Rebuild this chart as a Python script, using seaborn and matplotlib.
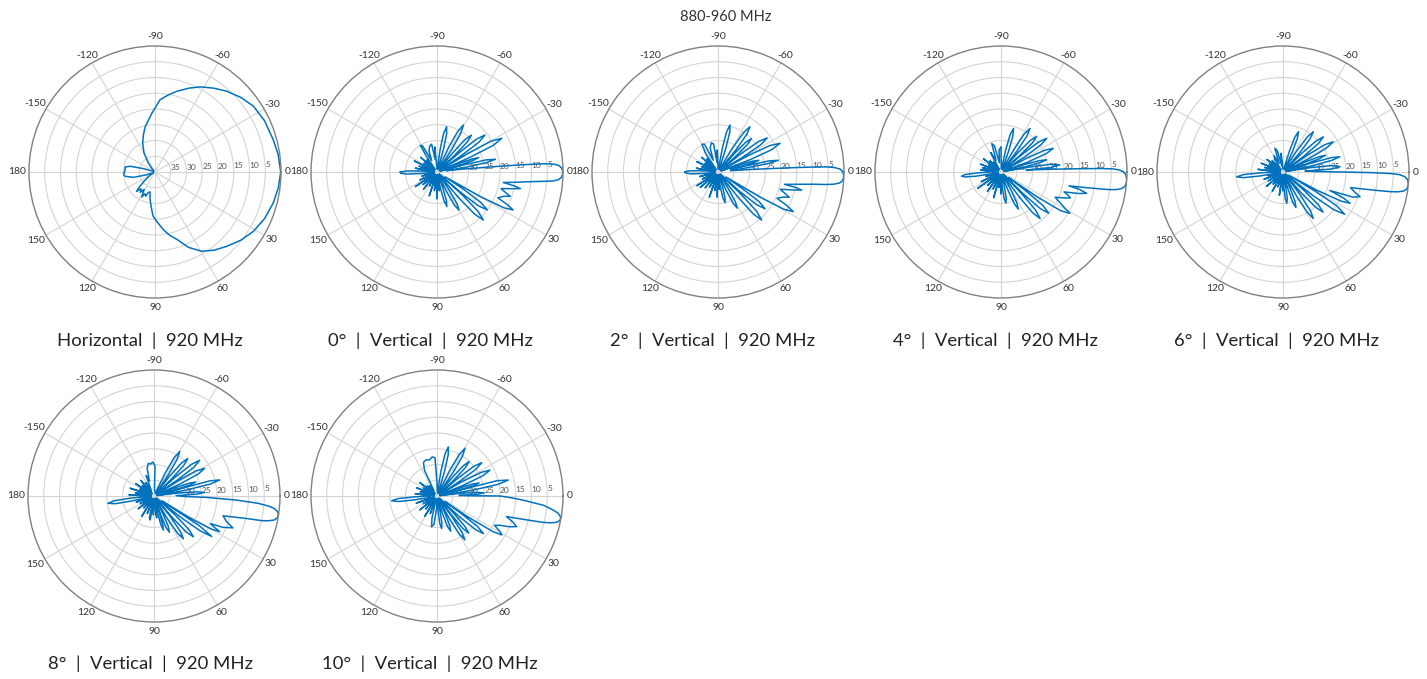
import numpy as np
import pandas as pd
import seaborn as sns
import matplotlib.pyplot as plt

sns.set_theme(style='white')
plt.rcParams['font.family'] = ['Lato', 'DejaVu Sans']

# radiation patterns: (angle in deg, attenuation in dB)
horizontal = [(-180, 30.3), (-175, 30.5), (-170.5, 30.4), (-167, 31.9), (-164, 36), (-160, 39), (-150, 39.5),
              (-140, 39.5), (-132, 38.5), (-126.5, 36.4), (-120, 33), (-113, 30), (-107, 27.5), (-102, 25.2),
              (-97, 23.3), (-93, 21.3), (-86, 17), (-80, 15.1), (-75, 13.5), (-68, 11.3), (-62, 9.4), (-55, 7.5),
              (-48.4, 5.7), (-41, 3.9), (-33.7, 2.4), (-25, 1.6), (-15.3, 1.1), (-8, 0.5), (0, 0.1), (7, 0.5),
              (14.7, 1.2), (23, 2.2), (31, 3.5), (38.5, 5.2), (46, 7.2), (53, 8.9), (59.5, 10.8), (66, 13.8),
              (72, 17.5), (77, 19.4), (81.8, 21.5), (88, 24.3), (92.5, 26),
              (95, 28), (98, 30), (101, 31.6), (104, 33.5), (108, 33.2), (111, 31.8), (114.8, 32.4), (118, 31),
              (122, 33.5), (126, 32), (129, 33), (131, 32.8), (133.5, 31.5), (136, 33), (140, 35.5), (146, 38),
              (155, 39.5), (162, 37), (166, 33), (168.7, 32), (171.8, 30.4), (176, 30), (180, 30.3)]

tilt0 = [(-180, 28.3), (-178, 30.5), (-176.5, 35), (-174, 39), (-170, 33), (-166, 39), (-162, 34), (-158, 39),
         (-154, 32), (-150, 39), (-146, 35), (-142, 39), (-138, 33), (-134, 39), (-130, 35), (-127, 39),
         (-124, 34), (-122, 30), (-119, 30.5), (-115, 36), (-111, 33), (-106, 31.5), (-101, 31), (-98, 36),
         (-95, 32), (-90, 39),
         (-84, 39), (-82, 32.5), (-80.2, 27.5), (-78, 25.3), (-75.8, 27.5), (-74, 32.5), (-72, 39),
         (-66, 39), (-64.7, 31.5), (-62.9, 25.5), (-60.7, 22.9), (-58.5, 25.5), (-56.7, 31.5), (-54, 39),
         (-50.5, 32), (-49.2, 26.4), (-47, 24), (-44.8, 26.4), (-43.5, 32), (-42.3, 39),
         (-41, 30.5), (-39.8, 23.7), (-37.6, 20.8), (-35.4, 23.7), (-34, 30.5), (-32.5, 39),
         (-31, 28.5), (-29.7, 20.3), (-27.5, 16.8), (-25.3, 20.3), (-24, 28.5), (-22.5, 39),
         (-21.5, 33), (-20.3, 28.1), (-19, 26), (-17.7, 28.1), (-16.5, 33), (-15.5, 39),
         (-14.8, 30.5), (-13.8, 23.9), (-12.3, 21), (-10.8, 23.9), (-9.5, 30.5), (-8, 37),
         (-6.5, 32), (-5.2, 19), (-4.8, 12), (-4.4, 6), (-3.9, 3), (-3.1, 1.3), (-2, 0.5), (-0.5, 0.1),
         (1, 0.1), (2.5, 0.5), (3.6, 1.3), (4.4, 3), (5, 6), (5.8, 9.8), (7.5, 15), (9, 18.7),
         (10.2, 15), (11.3, 13), (12.5, 15.5), (14.5, 19),
         (17, 17), (18.4, 15.5), (20, 17.5), (23, 19),
         (24.8, 15.5), (26.5, 13), (28.2, 16), (29.5, 24), (31, 37),
         (33, 30), (34.8, 23), (37, 20), (39.2, 23), (40.8, 30), (41.5, 39),
         (42, 29.5), (43.8, 22), (46, 18.8), (48.2, 22), (50, 29.5), (52, 39),
         (56, 33), (57.8, 28), (60, 26), (62.2, 28), (64, 33), (66, 39),
         (70, 34.5), (71.8, 30.5), (74, 28.6), (76.2, 30.5), (78, 34.5), (80, 39),
         (83, 34), (86, 39), (90, 31.5), (94, 39), (98, 34), (103, 39), (108, 32), (113, 39), (118, 35),
         (123, 39), (128, 33), (133, 39), (138, 34), (142, 39), (146, 31.7), (150, 39), (155, 34), (160, 39),
         (165, 35), (170, 39), (174.5, 35), (176, 30.5), (178, 28.5), (180, 28.3)]

tilt2 = [(-180, 29.5), (-178, 30.5), (-176, 34), (-173, 38), (-170, 33), (-166, 39), (-162, 34.5), (-158, 39),
         (-154, 32.5), (-150, 39), (-146, 35), (-142, 39), (-138, 33), (-134, 39), (-130, 34.5), (-127, 39),
         (-124, 33), (-120, 29.8), (-116, 30.2), (-112, 36), (-108, 32), (-103, 30.5), (-99, 31), (-96, 37),
         (-92, 33), (-88, 39),
         (-82, 39), (-79.7, 32.3), (-77.9, 26.9), (-75.7, 24.6), (-73.5, 26.9), (-71.7, 32.3), (-66, 39),
         (-60, 39), (-58.8, 31.2), (-57, 25), (-54.8, 22.4), (-52.6, 25), (-51, 31.2), (-50, 39),
         (-48.5, 32.5), (-47, 27.3), (-45, 25), (-43, 27.3), (-41.5, 32.5), (-40, 39),
         (-38.5, 30.5), (-36.9, 23.9), (-34.7, 21), (-32.5, 23.9), (-31, 30.5), (-29.8, 39),
         (-28.5, 29), (-27, 21.5), (-24.8, 18.3), (-22.6, 21.5), (-21, 29), (-19.8, 39),
         (-18.5, 33.2), (-17.3, 28.5), (-16, 26.5), (-14.7, 28.5), (-13.5, 33.2), (-13, 36),
         (-12.3, 23.5), (-11, 20.5), (-9.7, 23.5), (-8.5, 30), (-6, 36),
         (-4.5, 30), (-3.4, 18), (-3, 10), (-2.7, 5.5), (-2.2, 3), (-1.4, 1.3), (-0.3, 0.5), (1.3, 0.1),
         (2.8, 0.1), (4.2, 0.5), (5.2, 1.3), (6, 3), (6.6, 5.5), (7.3, 9.5), (9, 15), (10.5, 18.5),
         (11.2, 15), (12.2, 12.8), (13.4, 15.3), (15.5, 19.5),
         (18, 17.5), (19.5, 16), (21, 17.8), (24, 19.5),
         (26.1, 15.5), (27.8, 13), (29.5, 16), (30.8, 24), (32.5, 37),
         (34.3, 30.5), (35.8, 23.9), (38, 21), (40.2, 23.9), (41.8, 30.5), (43, 39),
         (44, 29.7), (45.5, 22.5), (47.7, 19.4), (49.9, 22.5), (51.5, 29.7), (53.5, 39),
         (58, 33.5), (59.8, 29), (62, 27), (64.2, 29), (66, 33.5), (68.5, 39),
         (73, 35), (74.8, 31.5), (77, 30), (79.2, 31.5), (81, 35), (83, 39),
         (86, 34.5), (89, 39), (92, 32), (96, 39), (100, 34), (104, 39), (109, 31.5), (114, 39), (119, 34.5),
         (124, 39), (129, 33.5), (134, 39), (139, 32.5), (143, 39), (147, 32), (151, 39), (156, 34.5),
         (161, 39), (166, 34), (170, 39), (174, 36), (176, 31.5), (178, 29.8), (180, 29.5)]

tilt4 = [(-180, 36), (-177, 38), (-174, 33.5), (-171, 39), (-167, 34), (-163, 39), (-159, 33), (-155, 39),
         (-151, 35.5), (-147, 39), (-143, 33), (-139, 39), (-135, 35), (-131, 39), (-127, 36),
         (-123, 39), (-118, 33), (-113, 36), (-108, 30.5), (-104, 31.5), (-100, 37), (-95, 33), (-90, 32),
         (-86, 39),
         (-80, 39), (-78, 32.8), (-76.2, 27.8), (-74, 25.6), (-71.8, 27.8), (-70, 32.8), (-65, 39),
         (-61, 39), (-60.2, 31.7), (-58.6, 25.9), (-56.4, 23.4), (-54.2, 25.9), (-52.7, 31.7), (-51, 39),
         (-48.7, 32), (-47.2, 26.4), (-45, 24), (-42.8, 26.4), (-41.3, 32), (-40.5, 39),
         (-39.8, 31), (-38.6, 24.7), (-36.4, 22), (-34.2, 24.7), (-32.7, 31), (-30.5, 39),
         (-28.3, 31), (-26.5, 24.5), (-24.3, 21.8), (-22.1, 24.5), (-20.3, 31), (-19, 39),
         (-17.8, 32.5), (-16.5, 27.3), (-15, 25), (-13.5, 27.3), (-12, 32.5), (-11, 39),
         (-9.8, 30.6), (-8.8, 24), (-6.8, 21.2), (-5.2, 24), (-4.5, 32),
         (-3.4, 26), (-2.4, 15.4), (-2, 8), (-1.6, 4.5), (-1, 2.5), (-0.1, 1.1), (1.2, 0.4), (3, 0.05),
         (5, 0.05), (6.6, 0.4), (7.7, 1.2), (8.6, 2.8), (9.2, 5), (9.6, 7.6), (10.5, 13), (11.5, 18),
         (12.5, 14.5), (14, 12), (15.5, 14.5), (17.5, 19),
         (19, 17.5), (20.5, 16.5), (22, 18), (25, 21),
         (29, 17.3), (31, 14.5), (33, 17.5), (34.5, 26), (36, 37),
         (37.2, 30), (38.6, 23), (40.8, 20), (43, 23), (44.5, 30), (45.5, 39),
         (46.3, 30.3), (47.8, 23.6), (50, 20.7), (52.2, 23.6), (53.8, 30.3), (56, 39),
         (61, 33.5), (62.8, 29), (65, 27), (67.2, 29), (69, 33.5), (72, 39),
         (77, 35), (78.8, 31.5), (81, 30), (83.2, 31.5), (85, 35), (87, 39),
         (90, 33), (94, 39), (98, 35), (102, 39), (106, 31.5), (110, 39), (115, 34), (120, 39), (125, 32.5),
         (130, 39), (135, 34), (140, 39), (145, 31), (149, 39), (154, 33), (159, 39), (164, 35), (168, 39),
         (170.5, 32), (172.2, 28.5), (174, 27.4), (175.8, 28.5), (177.5, 32), (180, 36)]

tilt6 = [(-180, 37), (-177, 38), (-174, 32), (-170, 39), (-166, 34), (-162, 39), (-158, 32.5), (-154, 39),
         (-150, 35), (-146, 39), (-142, 33.5), (-138, 39), (-134, 35), (-129, 39),
         (-124, 35.5), (-119, 34), (-114, 37), (-109, 32), (-105, 33), (-101, 38), (-96, 34), (-92, 39),
         (-75, 39), (-73, 33.2), (-71.2, 28.4), (-69, 26.3), (-66.8, 28.4), (-65, 33.2), (-61, 39),
         (-57, 32), (-55.2, 26.4), (-53, 24), (-50.8, 26.4), (-49, 32), (-47, 39),
         (-44.8, 31.5), (-43.2, 25.6), (-41, 23), (-38.8, 25.6), (-37.2, 31.5), (-36, 39),
         (-34.6, 30.7), (-33.2, 24.2), (-31, 21.4), (-28.8, 24.2), (-27.3, 30.7), (-26, 39),
         (-24.3, 32.8), (-23, 27.7), (-21.5, 25.5), (-20, 27.7), (-18.8, 32.8), (-18, 39),
         (-17.5, 30.7), (-16.6, 24.1), (-15, 21.3), (-13.4, 24.1), (-12, 30.7), (-10, 39),
         (-9, 30.9), (-7.5, 24.5), (-5.3, 21.8), (-3.5, 24.5), (-2.5, 33),
         (-1, 30), (0, 22), (0.4, 12), (0.8, 6), (1.3, 3), (2.2, 1.3), (3.5, 0.4), (5, 0.05), (6.5, 0.05),
         (8, 0.4), (9, 1.3), (9.8, 3), (10.4, 5.5), (11, 9), (12, 14), (13, 18),
         (15.5, 16.5), (17.8, 14.3), (19.8, 16.5), (21.5, 24),
         (23.3, 19), (25, 16.5), (26.7, 19.5), (28.3, 28), (29.5, 38),
         (30.8, 28.2), (32.2, 19.9), (34.4, 16.3), (36.6, 19.9), (38.2, 28.2), (40, 39),
         (41.2, 31), (42.8, 24.7), (45, 22), (47.2, 24.7), (48.8, 31), (50.5, 39),
         (53, 31.2), (54.6, 25), (56.8, 22.4), (59, 25), (60.6, 31.2), (63, 39),
         (66.5, 34), (67.8, 29.8), (70, 28), (72.2, 29.8), (73.5, 34), (76.5, 39),
         (79.5, 35), (80.8, 31.5), (83, 30), (85.2, 31.5), (86.5, 35), (88, 39),
         (91, 34), (95, 39), (99, 32.5), (104, 39), (109, 35), (114, 39), (119, 33), (124, 39), (129, 35),
         (134, 39), (139, 33), (144, 39), (149, 34.5), (154, 39), (159, 33.5), (164, 39), (167, 35), (169, 39),
         (170.3, 32.6), (171.8, 27.4), (174, 25.2), (176.2, 27.4), (177.7, 32.6), (180, 37)]

tilt8 = [(-180, 37), (-177, 32), (-174, 39), (-170, 34), (-166, 39), (-162, 32), (-158, 39), (-154, 35),
         (-150, 39), (-146, 33), (-142, 39), (-138, 35), (-134, 39), (-130, 33.5), (-126, 39),
         (-121, 35), (-116, 38), (-111, 33), (-107, 35), (-104, 31), (-100, 29.5), (-96, 29.8), (-92, 29.2),
         (-88, 30.5), (-86, 38),
         (-66, 39), (-64, 31.9), (-62.2, 26.1), (-60, 23.7), (-57.8, 26.1), (-56, 31.9), (-54, 39),
         (-51.8, 32), (-50.2, 26.4), (-48, 24), (-45.8, 26.4), (-44.2, 32), (-43, 39),
         (-41.6, 30.8), (-40.2, 24.4), (-38, 21.6), (-35.8, 24.4), (-34.4, 30.8), (-33.3, 39),
         (-32.2, 30.9), (-30.8, 24.4), (-28.6, 21.7), (-26.4, 24.4), (-24.8, 30.9), (-23.5, 39),
         (-21.3, 33), (-20, 28.1), (-18.5, 26), (-17, 28.1), (-16, 33), (-15.6, 39),
         (-15.2, 21.7), (-13.7, 18.5), (-12, 21.7), (-10.5, 29.3), (-8.5, 39),
         (-7, 32), (-5.6, 26.4), (-4, 24), (-2.4, 26.4), (-1, 33),
         (1, 30), (1.5, 23.4), (2.8, 14), (4, 7), (5, 3.5), (6, 1.5), (7.3, 0.4), (8.8, 0.05), (10.2, 0.3),
         (11.3, 1.1), (12.2, 2.8), (12.9, 5), (13.5, 9), (14.8, 14), (16, 17.2),
         (19.5, 15.5), (22, 13), (24.5, 16), (26, 20),
         (27, 19), (28.5, 16.3), (30, 19), (31.5, 27), (32.5, 37),
         (33.2, 23), (35, 17.6), (37, 21.5), (38.5, 28.8), (40, 39),
         (42, 31), (43.8, 24.7), (46, 22), (48.2, 24.7), (49.6, 31), (50.5, 39),
         (51.5, 31.8), (53.3, 26), (55.5, 23.5), (57.7, 26), (59.5, 31.8), (61.5, 39),
         (63.5, 33.8), (64.8, 29.4), (67, 27.5), (69.2, 29.4), (70.5, 33.8), (71.5, 39),
         (72, 34.4), (73, 30.5), (74.6, 28.8), (76.4, 30.5), (78, 34.4), (80, 39),
         (83, 33), (87, 39), (92, 34), (96, 39), (99, 32.3), (102, 33), (106, 39), (111, 34), (116, 39),
         (121, 32.5), (126, 39), (131, 35), (136, 39), (141, 33.5), (146, 39), (151, 35), (156, 39),
         (161, 34), (164, 39),
         (167.3, 32.6), (168.8, 27.4), (171, 25.2), (173.2, 27.4), (174.7, 32.6), (177, 39), (180, 37)]

tilt10 = [(-180, 37), (-177, 38), (-174, 33), (-170, 39), (-166, 34.5), (-162, 39), (-158, 33), (-154, 39),
          (-150, 35), (-146, 39), (-142, 33), (-138, 39), (-134, 35.5), (-130, 39), (-126, 36),
          (-120, 38), (-116, 31), (-112, 28.5), (-107, 28), (-102, 28.3), (-97, 27.5), (-93, 27.8), (-90, 36),
          (-83, 39), (-81, 32), (-79.2, 26.4), (-77, 24), (-74.8, 26.4), (-73, 32), (-68, 39),
          (-64, 39), (-63.6, 31.2), (-61.8, 25), (-59.6, 22.4), (-57.4, 25), (-55.6, 31.2), (-53.5, 39),
          (-50.5, 32.5), (-49, 27.3), (-47, 25), (-45, 27.3), (-43.5, 32.5), (-42, 39),
          (-40.3, 31.2), (-38.9, 25), (-36.7, 22.3), (-34.5, 25), (-33, 31.2), (-31.5, 39),
          (-29.8, 30.7), (-28.2, 24.1), (-26, 21.3), (-23.8, 24.1), (-22.2, 30.7), (-21, 39),
          (-19.8, 33), (-18.6, 28.1), (-17.2, 26), (-15.8, 28.1), (-15, 33), (-14.6, 39),
          (-14.3, 20.3), (-12.6, 16.8), (-10.8, 20.3), (-9.3, 28.4), (-7.5, 39),
          (-6.5, 32.5), (-5.3, 27.3), (-3.8, 25), (-2.3, 27.3), (-1.5, 33),
          (-0.5, 30), (0, 20), (1.5, 16), (3, 12), (5, 6), (6.9, 2.8), (8, 1.3), (9.2, 0.4), (10.4, 0.05),
          (11.6, 0.4), (12.5, 1.3), (13.3, 3), (14, 5.5), (15, 11), (16.5, 17),
          (19, 14.5), (21, 12.9), (23, 15), (25, 18),
          (27, 19.5), (29.5, 17), (31, 16), (32.5, 19), (34, 28), (35, 37),
          (35.8, 30.5), (36.9, 23.9), (39, 21), (41.2, 23.9), (42.8, 30.5), (44, 39),
          (46, 32.2), (47.5, 26.8), (49.5, 24.5), (51.5, 26.8), (52.5, 32.2), (53.5, 39),
          (54.2, 31.8), (55.5, 26), (57.5, 23.5), (59.7, 26), (61.5, 31.8), (64, 39),
          (65.2, 34), (66.6, 29.8), (68.8, 28), (71, 29.8), (72.5, 34), (75, 39),
          (78.5, 34.8), (79.8, 31.2), (82, 29.6), (84.2, 31.2), (85.5, 34.8), (87, 39),
          (92, 36), (96, 31), (100, 30), (103, 33), (106, 39), (111, 34), (116, 39), (121, 32.5), (126, 39),
          (131, 34.5), (136, 39), (141, 33), (146, 39), (151, 35), (156, 39), (161, 33), (166, 39),
          (170.3, 32.8), (171.8, 27.7), (174, 25.5), (176.2, 27.7), (177.7, 32.8), (180, 37)]

panel_titles = ['Horizontal  |  920 MHz', '0°  |  Vertical  |  920 MHz', '2°  |  Vertical  |  920 MHz',
                '4°  |  Vertical  |  920 MHz', '6°  |  Vertical  |  920 MHz', '8°  |  Vertical  |  920 MHz',
                '10°  |  Vertical  |  920 MHz']
patterns = [horizontal, tilt0, tilt2, tilt4, tilt6, tilt8, tilt10]

theta_ticks = [0, 30, 60, 90, 120, 150, 180, 210, 240, 270, 300, 330]
theta_labels = ['0', '30', '60', '90', '120', '150', '180', '-150', '-120', '-90', '-60', '-30']
r_ticks = [5, 10, 15, 20, 25, 30, 35]

W, H = 1427, 679
R = 126
centers = [(155, 172), (437, 172), (718, 172), (1001, 172), (1283, 172), (154, 496), (437, 496)]
title_pos = [(150, 341), (430, 341), (712, 341), (995, 341), (1277, 341), (150, 664), (430, 664)]

fig = plt.figure(figsize=(W / 100, H / 100), dpi=100)
fig.text(726 / W, 1 - 17 / H, '880-960 MHz', ha='center', va='center', fontsize=10.5, color='#333333')

for pts, name, (cx, cy), (tx, ty) in zip(patterns, panel_titles, centers, title_pos):
    ax = fig.add_axes([(cx - R) / W, (H - cy - R) / H, 2 * R / W, 2 * R / H], projection='polar')
    df = pd.DataFrame(pts, columns=['angle', 'db'])
    df['theta'] = np.deg2rad(df['angle'])
    sns.lineplot(data=df, x='theta', y='db', sort=False, estimator=None, ax=ax,
                 color='#0072BD', linewidth=1.1)
    ax.set_theta_zero_location('E')
    ax.set_theta_direction(-1)
    ax.set_ylim(40, 0)
    ax.set_thetagrids(theta_ticks, theta_labels, fontsize=7.5, color='#333333')
    ax.set_rgrids(r_ticks, [str(v) for v in r_ticks], angle=-2, fontsize=6, color='#555555')
    ax.tick_params(axis='x', pad=-6.5)
    ticks = ax.xaxis.get_major_ticks()
    for i, t in enumerate(ticks[:12]):
        if theta_labels[i] in ('180', '-150', '150'):
            t.set_pad(-4.5)
        elif theta_labels[i] == '0':
            t.set_pad(-8.5)
    ax.grid(True, color='#d4d4d4', linewidth=0.8)
    ax.spines['polar'].set_color('#808080')
    ax.spines['polar'].set_linewidth(1.0)
    ax.set_xlabel('')
    ax.set_ylabel('')
    fig.text(tx / W, 1 - ty / H, name, ha='center', va='center', fontsize=13.3, color='#222222')

fig.savefig('out.png', dpi=100)
